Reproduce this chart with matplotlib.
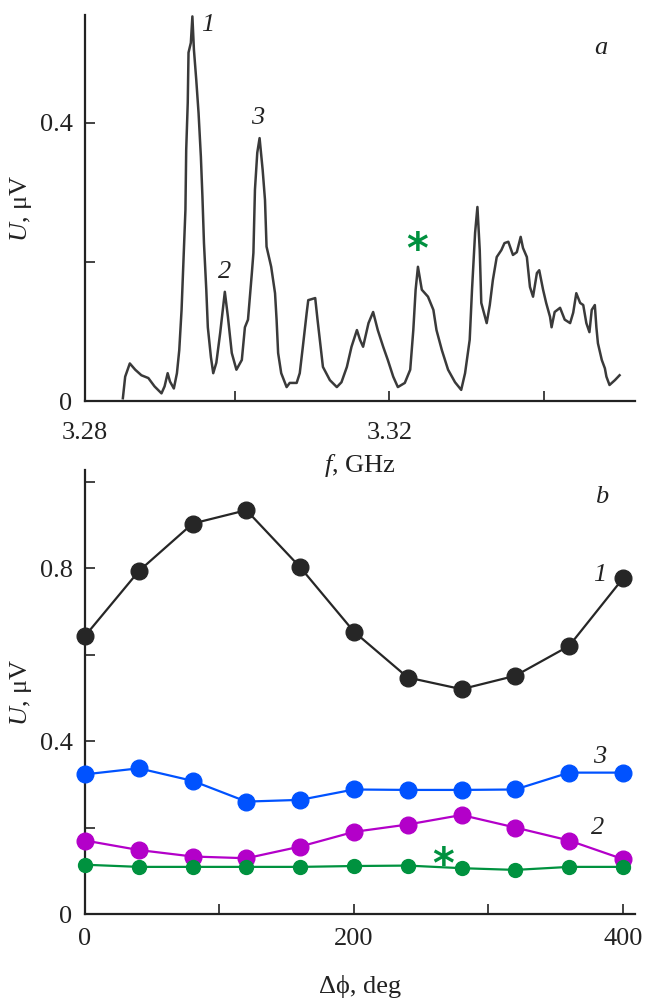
import matplotlib
matplotlib.use("Agg")
import matplotlib.pyplot as plt

plt.rcParams['font.family'] = ['Liberation Serif', 'DejaVu Serif']
plt.rcParams['mathtext.fontset'] = 'custom'
plt.rcParams['mathtext.rm'] = 'Liberation Serif'
plt.rcParams['mathtext.it'] = 'Liberation Serif:italic'

# ---- panel a: spectrum ----
freq_ghz = [3.2855, 3.2858, 3.2864, 3.2871, 3.2879, 3.2888, 3.2896, 3.2905, 3.2909, 3.2913,
            3.2916, 3.2921, 3.2925, 3.2928, 3.2931, 3.2933, 3.2936, 3.2937, 3.2939, 3.2940,
            3.2943, 3.2945, 3.2947, 3.2950, 3.2953, 3.2956, 3.2958, 3.2960, 3.2963, 3.2965,
            3.2969, 3.2972, 3.2976, 3.2981, 3.2984, 3.2987, 3.2991, 3.2996, 3.3002, 3.3009,
            3.3013, 3.3017, 3.3022, 3.3024, 3.3026, 3.3029, 3.3032, 3.3036, 3.3039, 3.3041,
            3.3047, 3.3052, 3.3054, 3.3056, 3.3060, 3.3067, 3.3071, 3.3080, 3.3084, 3.3088,
            3.3093, 3.3095, 3.3104, 3.3107, 3.3110, 3.3114, 3.3123, 3.3132, 3.3138, 3.3145,
            3.3151, 3.3158, 3.3162, 3.3166, 3.3173, 3.3179, 3.3185, 3.3192, 3.3198, 3.3205,
            3.3211, 3.3220, 3.3227, 3.3231, 3.3234, 3.3237, 3.3242, 3.3250, 3.3257, 3.3261,
            3.3268, 3.3276, 3.3285, 3.3293, 3.3298, 3.3304, 3.3307, 3.3311, 3.3314, 3.3317,
            3.3319, 3.3326, 3.3330, 3.3334, 3.3339, 3.3345, 3.3349, 3.3354, 3.3360, 3.3365,
            3.3370, 3.3373, 3.3378, 3.3382, 3.3386, 3.3391, 3.3394, 3.3399, 3.3403, 3.3408,
            3.3410, 3.3414, 3.3421, 3.3427, 3.3434, 3.3438, 3.3442, 3.3447, 3.3451, 3.3455,
            3.3459, 3.3462, 3.3466, 3.3468, 3.3470, 3.3475, 3.3479, 3.3481, 3.3485, 3.3492,
            3.3498]
u_spec = [0.004, 0.035, 0.054, 0.045, 0.037, 0.033, 0.021, 0.011, 0.021, 0.040,
          0.028, 0.018, 0.040, 0.073, 0.131, 0.188, 0.275, 0.361, 0.429, 0.501,
          0.515, 0.553, 0.505, 0.462, 0.414, 0.351, 0.294, 0.227, 0.160, 0.106,
          0.063, 0.040, 0.055, 0.098, 0.127, 0.157, 0.121, 0.069, 0.045, 0.059,
          0.106, 0.117, 0.184, 0.213, 0.304, 0.357, 0.378, 0.332, 0.289, 0.222,
          0.193, 0.155, 0.117, 0.069, 0.040, 0.020, 0.026, 0.026, 0.040, 0.078,
          0.127, 0.145, 0.148, 0.117, 0.088, 0.049, 0.030, 0.020, 0.027, 0.049,
          0.078, 0.102, 0.088, 0.078, 0.112, 0.128, 0.102, 0.078, 0.059, 0.035,
          0.020, 0.026, 0.045, 0.102, 0.160, 0.193, 0.160, 0.150, 0.131, 0.102,
          0.073, 0.045, 0.027, 0.016, 0.040, 0.088, 0.160, 0.242, 0.279, 0.217,
          0.141, 0.112, 0.138, 0.174, 0.207, 0.217, 0.227, 0.229, 0.210, 0.214,
          0.236, 0.220, 0.207, 0.164, 0.150, 0.184, 0.188, 0.160, 0.141, 0.121,
          0.106, 0.128, 0.134, 0.117, 0.112, 0.127, 0.155, 0.141, 0.138, 0.112,
          0.099, 0.131, 0.138, 0.106, 0.083, 0.059, 0.047, 0.035, 0.023, 0.030,
          0.037]

# ---- panel b: amplitude vs phase difference ----
dphi_deg = [0, 40, 80, 120, 160, 200, 240, 280, 320, 360, 400]
u_peak1 = [0.643, 0.793, 0.903, 0.934, 0.802, 0.653, 0.547, 0.520, 0.551, 0.620, 0.776]
u_peak3 = [0.323, 0.337, 0.308, 0.260, 0.264, 0.288, 0.287, 0.287, 0.288, 0.327, 0.327]
u_peak2 = [0.170, 0.148, 0.133, 0.129, 0.156, 0.190, 0.207, 0.229, 0.200, 0.170, 0.127]
u_star = [0.114, 0.109, 0.109, 0.109, 0.109, 0.111, 0.112, 0.106, 0.102, 0.109, 0.109]

FS = 19
AX_C = '#222222'

fig = plt.figure(figsize=(6.45, 10.01), dpi=100)
ax1 = fig.add_axes([0.1318, 0.5994, 0.8527, 0.3856])
ax2 = fig.add_axes([0.1318, 0.0869, 0.8527, 0.4436])

for ax in (ax1, ax2):
    ax.set_facecolor('none')
    for s in ('top', 'right'):
        ax.spines[s].set_visible(False)
    for s in ('left', 'bottom'):
        ax.spines[s].set_linewidth(1.6)
        ax.spines[s].set_color(AX_C)
    ax.tick_params(direction='in', length=7, width=1.2, color=AX_C,
                   labelsize=FS, labelcolor='#222222')
    ax.tick_params(axis='y', pad=9)
ax1.tick_params(axis='x', pad=15)
ax2.tick_params(axis='x', pad=10)

# panel a
ax1.plot(freq_ghz, u_spec, color='#3a3a3a', lw=1.8)
ax1.set_xlim(3.2806, 3.3518)
ax1.set_ylim(0, 0.555)
ax1.set_xticks([3.2806, 3.30, 3.32, 3.34], labels=['3.28', '', '3.32', ''])
ax1.set_yticks([0, 0.2, 0.4], labels=['0', '', '0.4'])
ax1.set_xlabel('$\\mathit{f}$, GHz', fontsize=FS, labelpad=6, color='#222222')
ax1.set_ylabel('$\\mathit{U}$, μV', fontsize=FS, labelpad=4, color='#222222')
tk = dict(fontsize=FS, style='italic', ha='center', va='center', color='#222222')
ax1.text(3.2965, 0.541, '1', **tk)
ax1.text(3.2987, 0.186, '2', **tk)
ax1.text(3.3030, 0.407, '3', **tk)
ax1.text(3.3474, 0.508, 'a', **tk)
ax1.text(3.3236, 0.216, '*', fontsize=30, fontweight='bold', color='#00913f',
         ha='center', va='center', family='DejaVu Sans')

# panel b
ms = 12
ax2.plot(dphi_deg, u_peak1, '-o', color='#262626', lw=1.6, ms=ms, clip_on=False, zorder=3)
ax2.plot(dphi_deg, u_peak3, '-o', color='#0052ff', lw=1.6, ms=ms, clip_on=False, zorder=3)
ax2.plot(dphi_deg, u_peak2, '-o', color='#b300c9', lw=1.6, ms=ms, clip_on=False, zorder=3)
ax2.plot(dphi_deg, u_star, '-o', color='#00923f', lw=1.6, ms=10, clip_on=False, zorder=3)
ax2.set_xlim(0, 409)
ax2.set_ylim(0, 1.027)
ax2.set_xticks([0, 100, 200, 300, 400], labels=['0', '', '200', '', '400'])
ax2.set_yticks([0, 0.2, 0.4, 0.6, 0.8, 1.0], labels=['0', '', '0.4', '', '0.8', ''])
ax2.set_xlabel('Δϕ, deg', fontsize=FS, labelpad=18, color='#222222')
ax2.set_ylabel('$\\mathit{U}$, μV', fontsize=FS, labelpad=4, color='#222222')
ax2.text(383, 0.784, '1', **tk)
ax2.text(383, 0.363, '3', **tk)
ax2.text(381, 0.199, '2', **tk)
ax2.text(384, 0.964, 'b', **tk)
ax2.text(266, 0.112, '*', fontsize=30, fontweight='bold', color='#00913f',
         ha='center', va='center', family='DejaVu Sans')

fig.savefig('out.png', dpi=100)
